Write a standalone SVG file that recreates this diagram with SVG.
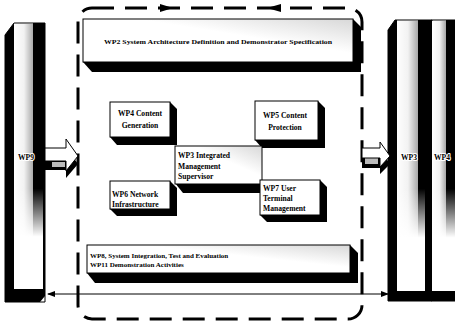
<svg xmlns="http://www.w3.org/2000/svg" width="455" height="324" viewBox="0 0 455 324">
<style>
.face{fill:#fff;stroke:#000;stroke-width:1}
.dep{fill:#000}
.lbl{font-family:"Liberation Serif","Times New Roman",serif;font-size:7.6px;font-weight:bold;fill:#000}
.sm{font-family:"Liberation Serif","Times New Roman",serif;font-size:7px;font-weight:bold;fill:#000}
.halo{paint-order:stroke;stroke:#fff;stroke-width:2px;stroke-linejoin:round}
</style>
<defs>
<linearGradient id="pface" x1="0" y1="0" x2="1" y2="0">
<stop offset="0" stop-color="#fff"/><stop offset="0.5" stop-color="#f2f2f2"/><stop offset="1" stop-color="#9a9a9a"/>
</linearGradient>
<linearGradient id="pfade" x1="0" y1="0" x2="0" y2="1">
<stop offset="0" stop-color="#fff" stop-opacity="0"/><stop offset="0.62" stop-color="#fff" stop-opacity="0"/><stop offset="0.8" stop-color="#fff" stop-opacity="1"/><stop offset="1" stop-color="#fff" stop-opacity="1"/>
</linearGradient>
<linearGradient id="bface" x1="0" y1="1" x2="1" y2="0">
<stop offset="0" stop-color="#fff"/><stop offset="0.6" stop-color="#fff"/><stop offset="1" stop-color="#d8d8d8"/>
</linearGradient>
<marker id="ah" markerWidth="8" markerHeight="6" refX="7" refY="3" orient="auto-start-reverse" markerUnits="userSpaceOnUse">
<path d="M0,0 L8,3 L0,6 Z" fill="#000"/>
</marker>
</defs>

<!-- Left pillar WP9 -->
<g id="wp9">
<path d="M5,35 L14,23 L45,23 L45,302 L5,302 Z" fill="#fff" stroke="#000"/>
<rect x="13" y="24" width="22" height="266" fill="url(#pface)"/>
<rect x="33" y="23" width="12" height="267" fill="#000"/>
<rect x="12" y="23" width="33" height="267" fill="url(#pfade)"/>
<line x1="44" y1="23" x2="44" y2="292" stroke="#000" stroke-width="2"/>
<path d="M5,35 L14,23 L14,290 L5,290 Z" fill="#000"/>
<path d="M5,289 L45,289 L45,296 L40,302 L5,302 Z" fill="#000"/>
<text class="lbl halo" x="18" y="160">WP9</text>
</g>

<!-- Right pillars WP3 / WP4 -->
<g id="wp3p">
<path d="M388,30 L395,20 L432,20 L432,301 L388,301 Z" fill="#fff" stroke="#000"/>
<rect x="396" y="21" width="24" height="271" fill="url(#pface)"/>
<rect x="418" y="20" width="14" height="272" fill="#000"/>
<rect x="396" y="20" width="36" height="272" fill="url(#pfade)"/>
<rect x="425" y="20" width="7" height="272" fill="#000"/>
<path d="M388,30 L395,20 L397,20 L397,292 L388,292 Z" fill="#000"/>
<rect x="388" y="291" width="44" height="10" fill="#000"/>
<text class="lbl halo" x="401" y="160">WP3</text>
</g>
<g id="wp4p">
<rect x="432" y="20" width="23" height="281" fill="#fff" stroke="#000"/>
<rect x="432" y="21" width="15" height="271" fill="url(#pface)"/>
<rect x="446" y="20" width="9" height="272" fill="#000"/>
<rect x="432" y="20" width="23" height="272" fill="url(#pfade)"/>
<rect x="432" y="291" width="23" height="10" fill="#000"/>
<text class="lbl halo" x="434" y="160">WP4</text>
</g>

<!-- Dashed enclosure -->
<g id="enclosure">
<rect x="78" y="8" width="284" height="311" rx="14" fill="none" stroke="#000" stroke-width="3" stroke-dasharray="22 11"/>
<path d="M160,4 L173,8 L160,12 Z" fill="#000"/>
<path d="M281,4 L267,8 L281,12 Z" fill="#000"/>
</g>

<!-- WP2 -->
<g id="wp2">
<path d="M353,19 L361,27 L361,72 L92,72 L83,62 Z" class="dep"/>
<rect x="83" y="19" width="270" height="43" fill="url(#bface)" stroke="#000"/>
<text class="sm" x="218" y="44" text-anchor="middle" textLength="228" lengthAdjust="spacingAndGlyphs">WP2 System Architecture Definition and Demonstrator Specification</text>
</g>

<!-- WP4 -->
<g id="wp4">
<path d="M170,102 L177,109 L177,145 L117,145 L110,137 Z" class="dep"/>
<rect x="110" y="102" width="60" height="35" class="face"/>
<text class="lbl" x="140" y="116" text-anchor="middle">WP4 Content</text>
<text class="lbl" x="140" y="128" text-anchor="middle">Generation</text>
</g>

<!-- WP5 -->
<g id="wp5">
<path d="M318,101 L325,108 L325,148 L262,148 L255,140 Z" class="dep"/>
<rect x="255" y="101" width="63" height="39" class="face"/>
<text class="lbl" x="285" y="118" text-anchor="middle">WP5 Content</text>
<text class="lbl" x="285" y="130" text-anchor="middle">Protection</text>
</g>

<!-- WP3 Integrated Management Supervisor -->
<g id="wp3">
<path d="M175,183 L262,183 L262,193 L183,193 Z" class="dep"/>
<rect x="175" y="146" width="87" height="38" stroke="#000" style="fill:url(#bface)"/>
<text class="lbl" x="178" y="158">WP3 Integrated</text>
<text class="lbl" x="178" y="169">Management</text>
<text class="lbl" x="178" y="179">Supervisor</text>
</g>

<!-- WP6 -->
<g id="wp6">
<path d="M170,181 L177,188 L177,216 L117,216 L110,209 Z" class="dep"/>
<rect x="110" y="181" width="60" height="28" class="face"/>
<text class="lbl" x="112" y="197">WP6 Network</text>
<text class="lbl" x="112" y="207">Infrastructure</text>
</g>

<!-- WP7 -->
<g id="wp7">
<path d="M320,180 L327,187 L327,222 L267,222 L260,215 Z" class="dep"/>
<rect x="260" y="180" width="60" height="35" class="face"/>
<text class="lbl" x="263" y="191">WP7 User</text>
<text class="lbl" x="263" y="201">Terminal</text>
<text class="lbl" x="263" y="211">Management</text>
</g>

<!-- WP8 / WP11 -->
<g id="wp8">
<path d="M350,245 L358,253 L358,283 L95,283 L87,273 Z" class="dep"/>
<rect x="87" y="245" width="263" height="28" fill="url(#bface)" stroke="#000"/>
<text class="sm" x="90" y="258">WP8,  System Integration, Test and Evaluation</text>
<text class="sm" x="90" y="267">WP11 Demonstration Activities</text>
</g>

<!-- Connectors -->
<g id="connectors">
<path d="M45,156 L66,156 L66,147 L78,164 L66,178 L66,170 L45,170 Z" fill="#000"/>
<rect x="52" y="162" width="13" height="5" fill="#bbb"/>
<path d="M45,148 L66,148 L66,139 L78,156 L66,171 L66,161 L45,161 Z" fill="#fff" stroke="#000"/>
<path d="M362,155 L380,155 L380,150 L390,164 L380,174 L380,168 L362,168 Z" fill="#000"/>
<rect x="365" y="158" width="13" height="6" fill="#bbb"/>
<path d="M362,148 L380,148 L380,142 L390,156 L380,167 L380,158 L362,158 Z" fill="#fff" stroke="#000"/>
<line x1="48" y1="294" x2="388" y2="294" stroke="#000" stroke-width="1" marker-start="url(#ah)" marker-end="url(#ah)"/>
</g>
</svg>
